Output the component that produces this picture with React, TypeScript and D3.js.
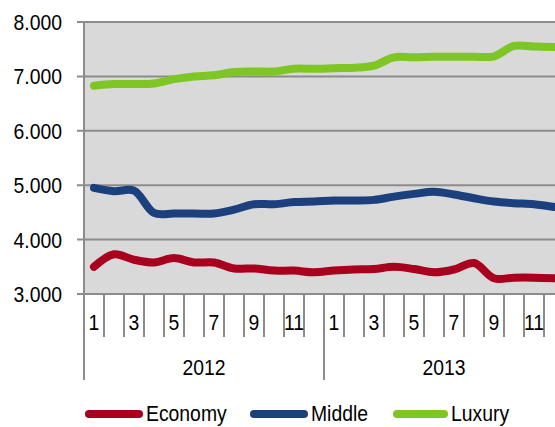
import React from "react";
import * as d3 from "d3";

const years = ["2012", "2013"];
const monthLabels = ["1", "", "3", "", "5", "", "7", "", "9", "", "11", ""];
const yTicks = [3000, 4000, 5000, 6000, 7000, 8000];

const economy = [3500, 3730, 3630, 3580, 3660, 3580, 3580, 3470, 3470, 3430, 3430, 3400,
  3430, 3450, 3460, 3500, 3460, 3400, 3450, 3570, 3290, 3300, 3300, 3290];
const middle = [4950, 4890, 4900, 4490, 4480, 4480, 4480, 4550, 4650, 4650, 4690, 4700,
  4720, 4720, 4730, 4790, 4840, 4880, 4830, 4760, 4700, 4670, 4650, 4600];
const luxury = [6830, 6860, 6860, 6870, 6950, 7000, 7020, 7080, 7090, 7090, 7140, 7140,
  7150, 7160, 7200, 7350, 7350, 7360, 7360, 7360, 7370, 7560, 7550, 7540];

const seriesNames = ["Economy", "Middle", "Luxury"];
const seriesColors = ["#A8001E", "#1C3F7E", "#7DC623"];

const W = 555, H = 427;
const left = 84, top = 22, bottom = 294, right = 564;
const SX = 0.88;
const FONT = "'Liberation Sans', Arial, sans-serif";

export default function App() {
  const idx = d3.range(24);
  const x = d3.scaleBand<number>().domain(idx).range([left, right]);
  const y = d3.scaleLinear().domain([3000, 8000]).range([bottom, top]);
  const line = d3.line<number>()
    .x((_, i) => (x(i) as number) + x.bandwidth() / 2)
    .y((d) => y(d))
    .curve(d3.curveCatmullRom.alpha(0.5));
  const data = [economy, middle, luxury];

  const txt = (tx: number, ty: number, s: string, anchor: string, key: string) => (
    <text key={key} transform={`translate(${tx},${ty}) scale(${SX},1)`} textAnchor={anchor}
      fontFamily={FONT} fontSize={22} fill="#000">{s}</text>
  );

  const legendItems = [
    { x1: 85, x2: 143, tx: 146 },
    { x1: 250, x2: 308, tx: 311 },
    { x1: 393, x2: 448, tx: 451 },
  ];

  return (
    <svg width={W} height={H} style={{ position: "absolute", left: 0, top: 0 }}>
      <rect x={0} y={0} width={W} height={H} fill="#fff" />
      <rect x={left} y={top} width={right - left} height={bottom - top} fill="#D9D9D9" />
      {yTicks.map((t) => (
        <line key={"g" + t} x1={77} x2={right} y1={y(t)} y2={y(t)} stroke="#8C8C8C" strokeWidth={2} />
      ))}
      {yTicks.map((t) => txt(62, y(t) + 8, d3.format(".3f")(t / 1000), "end", "yl" + t))}
      {d3.range(25).map((i) => {
        const xx = left + i * x.bandwidth();
        const long = i % 12 === 0;
        return <line key={"t" + i} x1={xx} x2={xx} y1={bottom} y2={long ? 380 : 337}
          stroke="#8C8C8C" strokeWidth={2} />;
      })}
      <line x1={left} x2={left} y1={top} y2={380} stroke="#8C8C8C" strokeWidth={2} />
      {idx.map((i) => monthLabels[i % 12] ? txt((x(i) as number) + x.bandwidth() / 2, 330, monthLabels[i % 12], "middle", "m" + i) : null)}
      {years.map((yr, k) => txt(left + (k + 0.5) * 12 * x.bandwidth(), 375, yr, "middle", "y" + yr))}
      {data.map((d, k) => (
        <path key={"s" + k} d={line(d) || ""} fill="none" stroke={seriesColors[k]} strokeWidth={8}
          strokeLinecap="round" strokeLinejoin="round" />
      ))}
      {legendItems.map((l, k) => (
        <g key={"l" + k}>
          <line x1={l.x1 + 4} x2={l.x2 - 4} y1={414} y2={414} stroke={seriesColors[k]} strokeWidth={8} strokeLinecap="round" />
          {txt(l.tx, 421, seriesNames[k], "start", "lt" + k)}
        </g>
      ))}
    </svg>
  );
}
